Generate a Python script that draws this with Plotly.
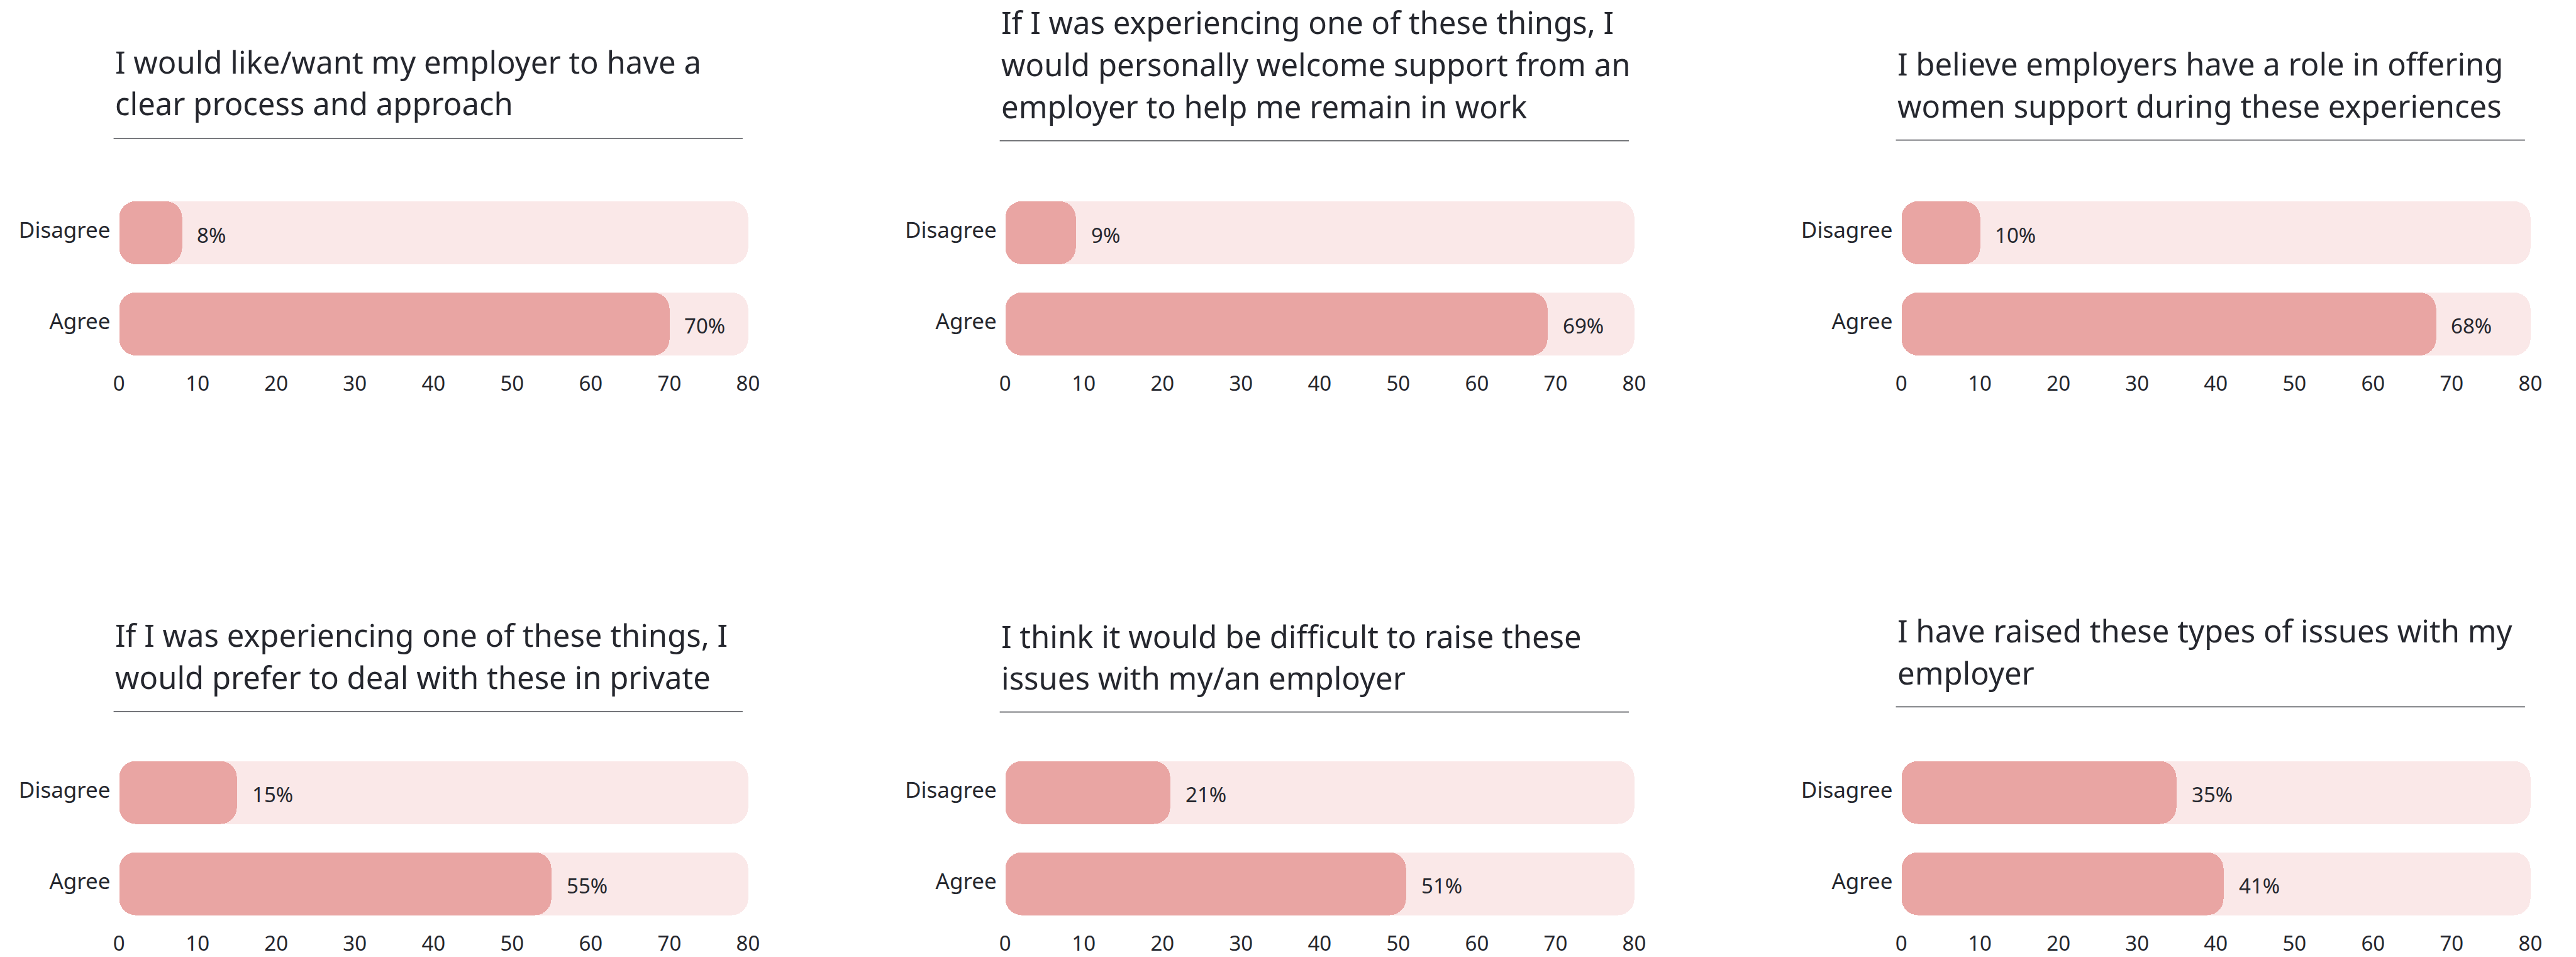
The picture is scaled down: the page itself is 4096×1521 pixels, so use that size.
import plotly.graph_objects as go

# ---- data -------------------------------------------------------------
titles = [
    ["I would like/want my employer to have a", "clear process and approach"],
    ["If I was experiencing one of these things, I",
     "would personally welcome support from an",
     "employer to help me remain in work"],
    ["I believe employers have a role in offering",
     "women support during these experiences"],
    ["If I was experiencing one of these things, I",
     "would prefer to deal with these in private"],
    ["I think it would be difficult to raise these",
     "issues with my/an employer"],
    ["I have raised these types of issues with my", "employer"],
]
categories = ["Disagree", "Agree"]
disagree = [8, 9, 10, 15, 21, 35]
agree = [70, 69, 68, 55, 51, 41]
x_ticks = [0, 10, 20, 30, 40, 50, 60, 70, 80]
x_max = 80

# ---- layout geometry (design units, scaled to the canvas) -------------
W, H = 4096, 1521
S = W / 4563

col_left = [211.0, 1783.0, 3372.7]      # where 0 sits on each x axis
col_width = 1116.0                      # span of 0..80
row_bands = [(413.5, 575.0), (1407.3, 1569.0)]   # Disagree / Agree band centres
title_baselines = [[131, 204], [60, 135, 210], [134, 208.6],
                   [1148, 1223], [1150, 1224], [1140.7, 1215.3]]
rule_y = [246, 250, 248.7, 1263, 1264, 1254.7]

TEXT = "#25272e"
BAR = "#e9a5a3"
TRACK = "#fae8e8"
FONT = "Noto Sans"
RADIUS = 26
BAR_W = 0.69
PAD = 1.0  # axis padding in data units around 0..80


def px(xv):
    return xv * S / W


def py(yv):
    return 1 - yv * S / H


fig = go.Figure()
annotations = []
shapes = []

for k in range(6):
    r, c = divmod(k, 3)
    sfx = "" if k == 0 else str(k + 1)
    xa, ya = "x" + sfx, "y" + sfx
    unit = col_width / x_max
    x0 = col_left[c] - PAD * unit
    x1 = col_left[c] + col_width + PAD * unit
    d_c, a_c = row_bands[r]
    step = a_c - d_c
    y_top = d_c - 0.5 * step
    y_bot = a_c + 0.5 * step

    fig.layout["xaxis" + sfx] = dict(
        domain=[px(x0), px(x1)], range=[-PAD, x_max + PAD], anchor=ya,
        tickvals=x_ticks, ticktext=[str(t) for t in x_ticks],
        showgrid=False, zeroline=False, showline=False, ticks="",
        tickfont=dict(family=FONT, size=33, color=TEXT), fixedrange=True,
    )
    fig.layout["yaxis" + sfx] = dict(
        domain=[py(y_bot), py(y_top)], range=[-0.5, 1.5], anchor=xa,
        type="category", categoryorder="array",
        categoryarray=list(reversed(categories)),
        showgrid=False, zeroline=False, showline=False, ticks="",
        tickfont=dict(family=FONT, size=35, color=TEXT), fixedrange=True,
        ticklabelstandoff=0, ticklabelshift=-4,
    )

    vals = [disagree[k], agree[k]]

    # pale track spanning the full 0..80 scale
    fig.add_trace(go.Bar(
        y=categories, x=[x_max] * 2, base=[0, 0], orientation="h",
        width=BAR_W, marker=dict(color=TRACK, cornerradius=RADIUS,
                                 line=dict(width=0)),
        xaxis=xa, yaxis=ya, showlegend=False, hoverinfo="skip",
    ))
    # value bars
    fig.add_trace(go.Bar(
        y=categories, x=vals, base=[0, 0], orientation="h", width=BAR_W,
        marker=dict(color=BAR, cornerradius=RADIUS, line=dict(width=0)),
        xaxis=xa, yaxis=ya, showlegend=False, hoverinfo="skip",
    ))

    # value labels
    for cat, v in zip(categories, vals):
        annotations.append(dict(
            x=v, y=cat, xref=xa, yref=ya, text=f"{v}%", showarrow=False,
            xanchor="left", yanchor="middle", xshift=22, yshift=-3,
            font=dict(family=FONT, size=33, color=TEXT),
        ))

    # title lines
    fs = 49
    for i, line in enumerate(titles[k]):
        base_y = title_baselines[k][i] * S
        centre = base_y - 0.388 * fs
        annotations.append(dict(
            x=px(col_left[c] - 9), y=1 - centre / H, xref="paper", yref="paper",
            text=line, showarrow=False, xanchor="left", yanchor="middle",
            font=dict(family=FONT, size=fs, color=TEXT),
        ))

    # rule under the title
    shapes.append(dict(
        type="line", xref="paper", yref="paper",
        x0=px(col_left[c] - 9.5), x1=px(col_left[c] - 9.5 + col_width),
        y0=py(rule_y[k]), y1=py(rule_y[k]),
        line=dict(color="#5c5e63", width=1.6),
    ))

fig.update_layout(
    width=W, height=H, autosize=False,
    margin=dict(l=0, r=0, t=0, b=0),
    paper_bgcolor="white", plot_bgcolor="white",
    barmode="overlay", bargap=0,
    font=dict(family=FONT, color=TEXT),
    annotations=annotations, shapes=shapes,
    hovermode=False,
)

fig.write_html("out.html", config={"displayModeBar": False})
